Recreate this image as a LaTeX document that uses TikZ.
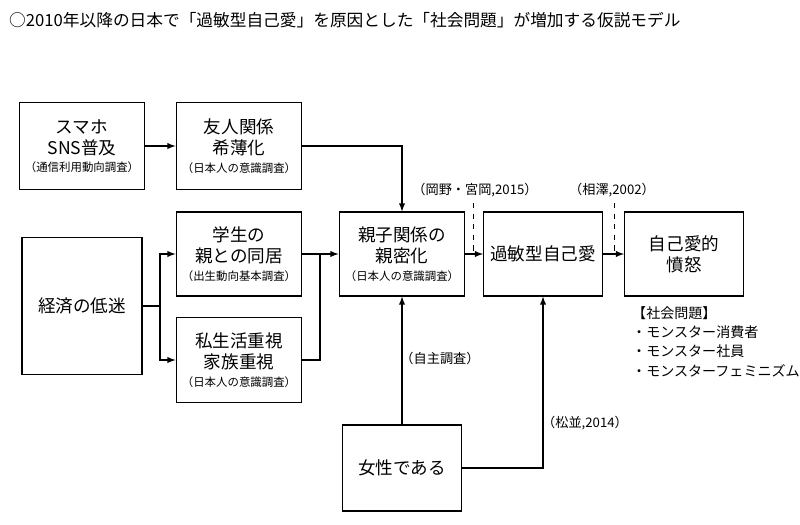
\documentclass[tikz,border=0pt]{standalone}
\usepackage{fontspec}
\setmainfont{Noto Sans CJK JP}
\begin{document}
\begin{tikzpicture}[
    x=0.02cm, y=-0.02cm,
    box/.style={rectangle, draw, semithick, align=center, font=\fontsize{10}{12}\selectfont},
    note/.style={font=\fontsize{6.5}{8}\selectfont},
    arrow/.style={semithick,->,>=latex},
    cite/.style={dashed, thin}
]
    \useasboundingbox (0,0) rectangle (800,524);
    % Title
    \node [anchor=west, font=\fontsize{9.5}{11}\selectfont] (title) at (3,20) {○2010年以降の日本で「過敏型自己愛」を原因とした「社会問題」が増加する仮説モデル};

    % Boxes
    \node [box, minimum width=2.4cm, minimum height=1.74cm] (sns) at (82,146) {スマホ\\SNS普及\\[-2pt]{\fontsize{6.5}{8}\selectfont（通信利用動向調査）}};
    \node [box, minimum width=2.4cm, minimum height=1.74cm] (friend) at (239,146) {友人関係\\希薄化\\[-2pt]{\fontsize{6.5}{8}\selectfont（日本人の意識調査）}};
    \node [box, minimum width=2.4cm, minimum height=1.68cm] (live) at (239,254) {学生の\\親との同居\\[-2pt]{\fontsize{6.5}{8}\selectfont（出生動向基本調査）}};
    \node [box, minimum width=2.4cm, minimum height=2.74cm] (econ) at (82,306) {経済の低迷};
    \node [box, minimum width=2.4cm, minimum height=1.7cm] (family) at (239,360) {私生活重視\\家族重視\\[-2pt]{\fontsize{6.5}{8}\selectfont（日本人の意識調査）}};
    \node [box, minimum width=2.38cm, minimum height=1.68cm] (close) at (402,254) {親子関係の\\親密化\\[-2pt]{\fontsize{6.5}{8}\selectfont（日本人の意識調査）}};
    \node [box, minimum width=2.38cm, minimum height=1.68cm] (narc) at (543,254) {過敏型自己愛};
    \node [box, minimum width=2.38cm, minimum height=1.68cm] (rage) at (684,254) {自己愛的\\憤怒};
    \node [box, minimum width=2.38cm, minimum height=1.72cm] (woman) at (402,468) {女性である};

    % Social problems
    \node [note, anchor=north west, align=left, font=\fontsize{8}{11}\selectfont] (social) at (626,300) {【社会問題】\\・モンスター消費者\\・モンスター社員\\・モンスターフェミニズム};

    % Arrows
    \draw [arrow] (sns) -- (friend);
    \draw [arrow] (friend.east) -| (close.north);
    \coordinate (split) at (160,306);
    \draw [semithick] (econ.east) -- (split);
    \draw [arrow] (split) |- (live.west);
    \draw [arrow] (split) |- (family.west);
    \draw [arrow] (live) -- (close);
    \draw [semithick] (family.east) -| (320,254);
    \draw [arrow] (close) -- (narc);
    \draw [arrow] (narc) -- (rage);
    \draw [arrow] (woman) -- (close);
    \draw [arrow] (woman.east) -| (narc.south);

    % Sources
    \node [note, font=\fontsize{7.5}{9}\selectfont] (okano) at (475,190) {（岡野・宮岡,2015）};
    \node [note, font=\fontsize{7.5}{9}\selectfont] (aizawa) at (612,190) {（相澤,2002）};
    \node [note, font=\fontsize{7.5}{9}\selectfont] (self) at (440,358) {（自主調査）};
    \node [note, font=\fontsize{7.5}{9}\selectfont] (matsu) at (585,423) {（松並,2014）};
    \draw [cite] (okano.south -| 473,0) -- (473,254);
    \draw [cite] (aizawa.south -| 614,0) -- (614,254);
\end{tikzpicture}
\end{document}
